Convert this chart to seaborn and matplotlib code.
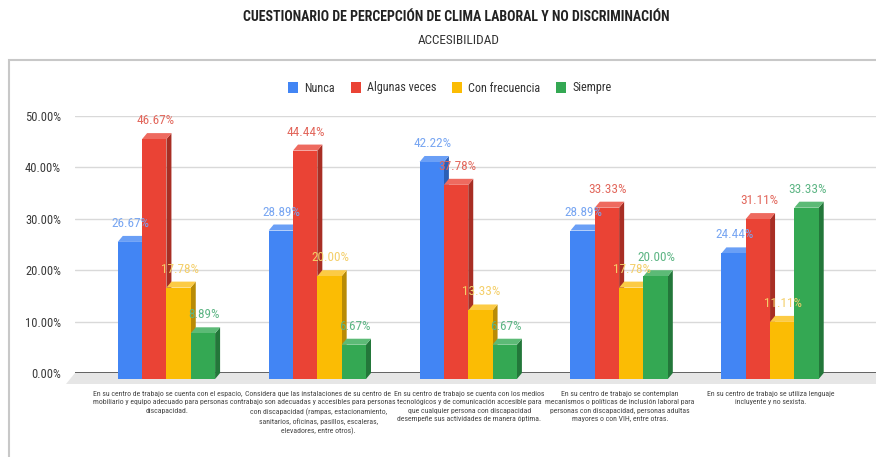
import numpy as np
import pandas as pd
import matplotlib
matplotlib.use("Agg")
import matplotlib.pyplot as plt
import seaborn as sns
from matplotlib import font_manager, transforms
from matplotlib.patches import Polygon, Rectangle, Patch

# ---------------- data ----------------
categories = [
    "En su centro de trabajo se cuenta con el espacio,\nmobiliario y equipo adecuado para personas con\ndiscapacidad.",
    "Considera que las instalaciones de su centro de\ntrabajo son adecuadas y accesibles para personas\ncon discapacidad (rampas, estacionamiento,\nsanitarios, oficinas, pasillos, escaleras,\nelevadores, entre otros).",
    "En su centro de trabajo se cuenta con los medios\ntecnológicos y de comunicación accesible para\nque cualquier persona con discapacidad\ndesempeñe sus actividades de manera óptima.",
    "En su centro de trabajo se contemplan\nmecanismos o políticas de inclusión laboral para\npersonas con discapacidad, personas adultas\nmayores o con VIH, entre otras.",
    "En su centro de trabajo se utiliza lenguaje\nincluyente y no sexista.",
]
series = ["Nunca", "Algunas veces", "Con frecuencia", "Siempre"]
nunca = [26.67, 28.89, 42.22, 28.89, 24.44]
algunas_veces = [46.67, 44.44, 37.78, 33.33, 31.11]
con_frecuencia = [17.78, 20.00, 13.33, 17.78, 11.11]
siempre = [8.89, 6.67, 6.67, 20.00, 33.33]
y_ticks = [0, 10, 20, 30, 40, 50]

title = "CUESTIONARIO DE PERCEPCIÓN DE CLIMA LABORAL Y NO DISCRIMINACIÓN"
subtitle = "ACCESIBILIDAD"

# ---------------- styles ----------------
front_colors = ["#4285F4", "#EA4335", "#FBBC04", "#34A853"]
top_colors = ["#6a9ff6", "#ee6a5f", "#fccb45", "#5cba76"]
side_colors = ["#2c5fb5", "#a82e24", "#b98b05", "#23773a"]
label_colors = ["#78a6f2", "#e2675c", "#f4cf6a", "#5db584"]


def pick(names):
    for n in names:
        try:
            font_manager.findfont(n, fallback_to_default=False)
            return n
        except Exception:
            pass
    return "DejaVu Sans"


sns.set_theme(style="white")
fam = pick(["Liberation Sans Narrow", "Arial Narrow", "Roboto Condensed",
            "Archivo Narrow", "Barlow Semi Condensed", "Liberation Sans"])
plt.rcParams["font.family"] = [fam, "DejaVu Sans"]

W, H = 876, 457
fig = plt.figure(figsize=(W / 100, H / 100), dpi=100)
fig.patch.set_facecolor("white")
ax = fig.add_axes([75 / W, 1 - 373 / H, 801 / W, 257 / H])

df = pd.DataFrame({
    "cat": np.tile(categories, len(series)),
    "serie": np.repeat(series, len(categories)),
    "value": np.concatenate([nunca, algunas_veces, con_frecuencia, siempre]),
})

sns.barplot(data=df, x="cat", y="value", hue="serie", order=categories,
            hue_order=series, palette=front_colors, saturation=1, width=0.645,
            errorbar=None, legend=False, ax=ax)

ax.set_xlim(-0.639, 4.669)
ax.set_ylim(0, 50)
ax.set_yticks(y_ticks)
ax.set_yticklabels([f"{v:.2f}%" for v in y_ticks], fontsize=9, color="#3a3a3a")
ax.set_xlabel("")
ax.set_ylabel("")
ax.tick_params(axis="x", length=0, pad=13, labelsize=5.6, labelcolor="#444444")
ax.tick_params(axis="y", length=0, pad=10)
for lab in ax.get_xticklabels():
    lab.set_linespacing(1.45)
    lab.set_transform(lab.get_transform() + transforms.Affine2D().translate(-4, 0))
for s in ax.spines.values():
    s.set_visible(False)
ax.set_facecolor("white")

# gridlines
for v in y_ticks:
    ax.axhline(v, color="#555555" if v == 0 else "#d9d9d9",
               lw=1.3 if v == 0 else 1.0, zorder=1)

D = ax.transData
ident = transforms.IdentityTransform()
dx, dy = 5, 6

# floor
(lx, ly) = D.transform((ax.get_xlim()[0], 0))
(rx, ry) = D.transform((ax.get_xlim()[1], 0))
floor = Polygon([(lx, ly), (rx + 20, ly), (rx + 11, ly - 11), (lx - 9, ly - 11)],
                closed=True, facecolor="#e6e6e6", edgecolor="none",
                transform=ident, clip_on=False, zorder=0.5)
ax.add_artist(floor)

front_tr = D + transforms.Affine2D().translate(-dx, -dy)
for h, cont in enumerate(ax.containers):
    for i, bar in enumerate(cont.patches):
        x0 = bar.get_x()
        w = bar.get_width()
        hv = bar.get_height()
        bx0, by0 = D.transform((x0, 0))
        bx1, by1 = D.transform((x0 + w, hv))
        fx0, fx1 = bx0 - dx, bx1 - dx
        fy0, fy1 = by0 - dy, by1 - dy
        z = 3 + (i * 4 + h) * 0.01
        side = Polygon([(fx1, fy1), (bx1, by1), (bx1, by0), (fx1, fy0)], closed=True,
                       facecolor=side_colors[h], edgecolor="none", transform=ident,
                       clip_on=False, zorder=z)
        top = Polygon([(fx0, fy1), (fx1, fy1), (bx1, by1), (bx0, by1)], closed=True,
                      facecolor=top_colors[h], edgecolor="none", transform=ident,
                      clip_on=False, zorder=z)
        ax.add_artist(side)
        ax.add_artist(top)
        bar.set_transform(front_tr)
        bar.set_zorder(z + 0.005)
        bar.set_edgecolor("none")
        bar.set_clip_on(False)
        ax.text((fx0 + fx1) / 2 + 1, by1 + 6, f"{hv:.2f}%", transform=ident,
                ha="center", va="bottom", fontsize=9.5, color=label_colors[h],
                zorder=10, clip_on=False)

# legend
handles = [Patch(facecolor=c, edgecolor="none") for c in front_colors]
fig.legend(handles, series, loc="center", bbox_to_anchor=(450 / W, 1 - 88 / H),
           ncol=4, frameon=False, fontsize=8.75, handlelength=0.82, handleheight=0.95,
           handletextpad=0.5, columnspacing=1.3, labelcolor="#333333")

# titles
fig.text(456 / W, 1 - 17 / H, title, ha="center", va="center", fontsize=10,
         fontweight="bold", color="#222222")
fig.text(459 / W, 1 - 41 / H, subtitle, ha="center", va="center", fontsize=9.5,
         color="#333333")

# outer box
box = Rectangle((9 / W, -0.2), 1.2, 1 - 60 / H + 0.2, transform=fig.transFigure,
                facecolor="none", edgecolor="#c8c8c8", lw=1.5, clip_on=False)
fig.add_artist(box)

fig.savefig("out.png", dpi=100)
